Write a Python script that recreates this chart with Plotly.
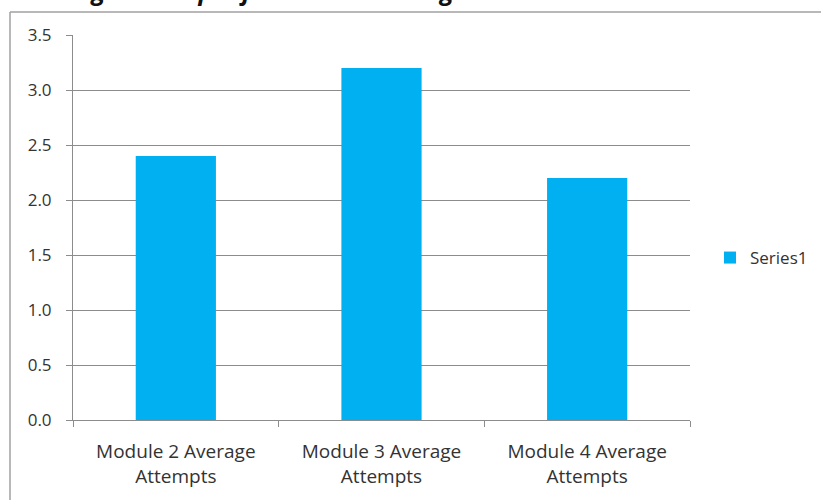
import plotly.graph_objects as go

categories = ["Module 2 Average<br>Attempts", "Module 3 Average<br>Attempts", "Module 4 Average<br>Attempts"]
values = [2.4, 3.2, 2.2]
series_name = "Series1"
y_ticks = [0.0, 0.5, 1.0, 1.5, 2.0, 2.5, 3.0, 3.5]
title_text = "Average Attempts for the E-Learning Modules"

W, H = 821, 500
L, R, T, B = 73, 131, 35, 80
pw, ph = W - L - R, H - T - B


def px_x(x):
    return (x - L) / pw


def px_y(y):
    return (H - B - y) / ph


FONT = "Open Sans"
GRID = "#8c8c8c"
TEXT = "#333333"

fig = go.Figure()
fig.add_trace(go.Bar(
    x=categories, y=values, name=series_name,
    marker=dict(color="#00B0F0", line=dict(width=0)),
    width=0.39,
))

fig.update_layout(
    width=W, height=H,
    margin=dict(l=L, r=R, t=T, b=B, autoexpand=False),
    paper_bgcolor="white", plot_bgcolor="white",
    showlegend=True,
    legend=dict(x=px_x(710), y=px_y(258), xanchor="left", yanchor="middle",
                font=dict(family=FONT, size=17, color=TEXT),
                itemwidth=30, bgcolor="rgba(0,0,0,0)"),
    xaxis=dict(showgrid=False, showline=True, linecolor=GRID, linewidth=1,
               ticks="outside", tickson="boundaries", ticklen=6, tickcolor=GRID,
               tickfont=dict(family=FONT, size=19, color=TEXT),
               ticklabelstandoff=14,
               range=[-0.5, 2.5]),
    yaxis=dict(range=[0, 3.5], tickvals=y_ticks, tickformat=".1f",
               showgrid=True, gridcolor=GRID, gridwidth=1,
               showline=True, linecolor=GRID, linewidth=1,
               ticks="outside", ticklen=6, tickcolor=GRID,
               tickfont=dict(family=FONT, size=17, color=TEXT),
               ticklabelstandoff=11,
               zeroline=False),
)

# chart frame (top and left edges visible)
fig.add_shape(type="line", xref="paper", yref="paper",
              x0=px_x(10), x1=px_x(W + 5), y0=px_y(12), y1=px_y(12),
              line=dict(color="#a0a0a0", width=1.5))
fig.add_shape(type="line", xref="paper", yref="paper",
              x0=px_x(10), x1=px_x(10), y0=px_y(12), y1=px_y(H + 5),
              line=dict(color="#a0a0a0", width=1.5))

# title, mostly above the top edge of the page
fig.add_annotation(text="<b><i>" + title_text + "</i></b>", xref="paper", yref="paper",
                   x=px_x(20), y=px_y(-10), xanchor="left", yanchor="middle",
                   showarrow=False, font=dict(family=FONT, size=25, color="#111111"))

fig.write_html("out.html")
